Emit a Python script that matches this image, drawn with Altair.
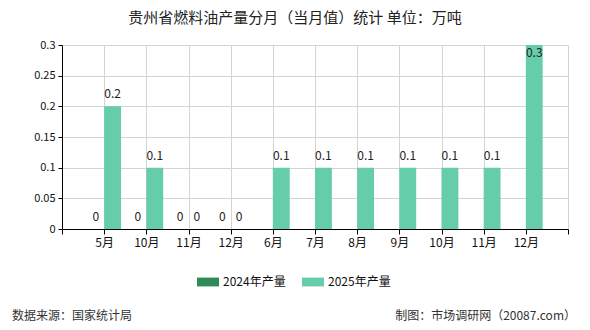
import altair as alt
import pandas as pd

months = ["5月", "10月", "11月", "12月", "6月", "7月", "8月", "9月", "10月", "11月", "12月"]
v2024 = [0, 0, 0, 0, None, None, None, None, None, None, None]
v2025 = [0.2, 0.1, 0, 0, 0.1, 0.1, 0.1, 0.1, 0.1, 0.1, 0.3]
series = ["2024年产量", "2025年产量"]
colors = ["#2e8b57", "#66cdaa"]
y_ticks = [0, 0.05, 0.1, 0.15, 0.2, 0.25, 0.3]
title_text = ["贵州省燃料油产量分月（当月值）统计 单位：万吨"]
footer_left = ["数据来源：国家统计局"]
footer_right = ["制图：市场调研网（20087.com）"]

FONT = "Noto Sans CJK SC"

rows = []
for i, m in enumerate(months):
    for s, vals in zip(series, [v2024, v2025]):
        v = vals[i]
        if v is not None:
            rows.append({"idx": i + 1, "month": m, "series": s, "value": v})
df = pd.DataFrame(rows)

label_arr = "[" + ",".join(["''"] + [f"'{m}'" for m in months] + ["''"]) + "]"

base = alt.Chart(df).transform_calculate(
    x0=f"datum.series == '{series[0]}' ? datum.idx - 0.4 : datum.idx"
).transform_calculate(
    x1="datum.x0 + 0.4", xm="datum.x0 + 0.2", zero="0"
)

x_scale = alt.Scale(domain=[0, 12], nice=False, zero=False, padding=0)
y_scale = alt.Scale(domain=[0, 0.3], nice=False, padding=0)

x_axis = alt.Axis(
    values=list(range(13)), labelExpr=f"{label_arr}[datum.value]", title=None,
    grid=True, gridColor="#d4d4d4", domainColor="#000", tickColor="#000",
    tickSize=5, labelFontSize=12, labelPadding=3, labelColor="#111", labelFont=FONT,
    labelAngle=0, labelOverlap=False,
)
y_axis = alt.Axis(
    values=y_ticks, format="~g", title=None, tickCount=7,
    grid=True, gridColor="#d4d4d4", domainColor="#000", tickColor="#000",
    tickSize=4, labelFontSize=11, labelPadding=3, labelColor="#111", labelFont=FONT,
    labelOverlap=False,
)

bars = base.mark_bar(orient="vertical").encode(
    x=alt.X("x0:Q", scale=x_scale, axis=x_axis),
    x2="x1:Q",
    y=alt.Y("value:Q", scale=y_scale, axis=y_axis),
    y2="zero:Q",
    color=alt.Color(
        "series:N",
        scale=alt.Scale(domain=series, range=colors),
        legend=alt.Legend(
            title=None, orient="none", direction="horizontal",
            legendX=135, legendY=226,
            symbolType="M-1,-0.4H1V0.4H-1Z", symbolSize=484, symbolStrokeWidth=0,
            labelFontSize=12, labelFont=FONT, labelColor="#111",
            labelOffset=4, columnPadding=16,
        ),
    ),
)

labels_low = base.transform_filter("datum.value < 0.3").mark_text(
    baseline="bottom", dy=-5, fontSize=12, font=FONT, color="#222"
).encode(
    x=alt.X("xm:Q", scale=x_scale, axis=x_axis),
    y=alt.Y("value:Q", scale=y_scale, axis=y_axis),
    text=alt.Text("value:Q", format="~g"),
)
labels_top = base.transform_filter("datum.value >= 0.3").mark_text(
    baseline="top", dy=3, fontSize=12, font=FONT, color="#222"
).encode(
    x=alt.X("xm:Q", scale=x_scale, axis=x_axis),
    y=alt.Y("value:Q", scale=y_scale, axis=y_axis),
    text=alt.Text("value:Q", format="~g"),
)

ttl = alt.Chart(pd.DataFrame({"t": title_text})).mark_text(
    align="center", baseline="middle", fontSize=15, font=FONT, color="#222"
).encode(text="t:N", x=alt.value(233), y=alt.value(-27))
fl = alt.Chart(pd.DataFrame({"t": footer_left})).mark_text(
    align="left", baseline="middle", fontSize=12, font=FONT, color="#333"
).encode(text="t:N", x=alt.value(-50), y=alt.value(271))
fr = alt.Chart(pd.DataFrame({"t": footer_right})).mark_text(
    align="right", baseline="middle", fontSize=12, font=FONT, color="#333"
).encode(text="t:N", x=alt.value(514), y=alt.value(271))

chart = alt.layer(bars, labels_low, labels_top, ttl, fl, fr).properties(
    width=506, height=184,
    padding={"left": 62, "top": 45, "right": 22, "bottom": 101},
    autosize=alt.AutoSizeParams(type="none"),
).configure_view(stroke=None)

chart.save("out.html", embed_options={"renderer": "svg", "actions": False})
